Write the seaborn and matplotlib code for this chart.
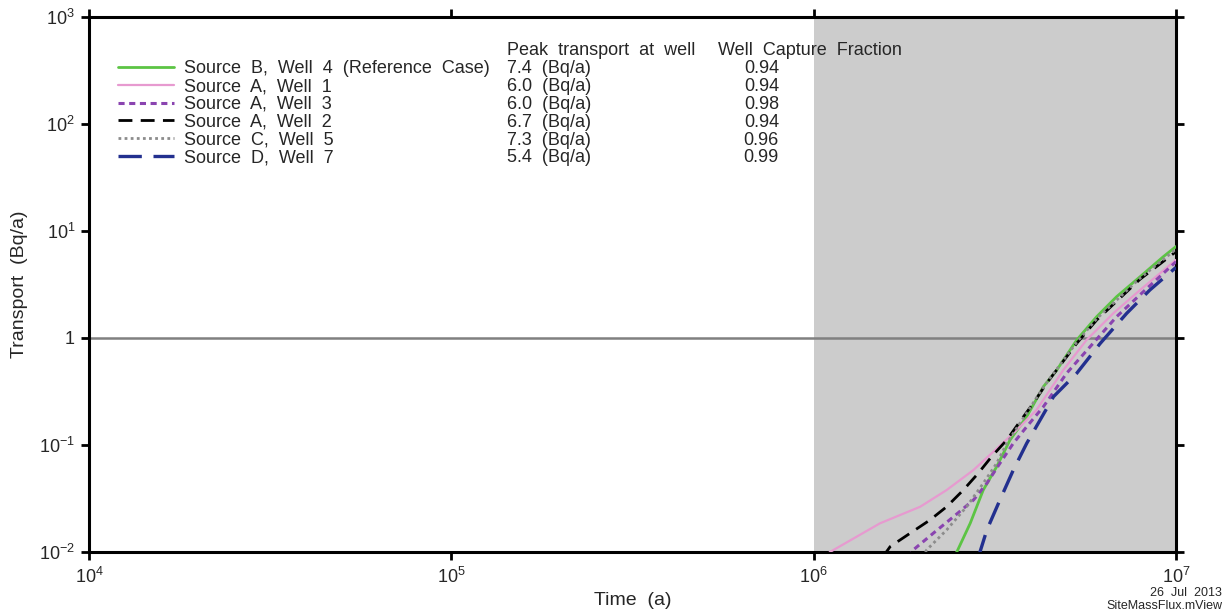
import numpy as np
import pandas as pd
import matplotlib
matplotlib.use("Agg")
import matplotlib.pyplot as plt
import seaborn as sns
from matplotlib.lines import Line2D
from matplotlib.ticker import FixedLocator, FixedFormatter, NullLocator

# ---- data ----
names = ["Source  B,  Well  4  (Reference  Case)", "Source  A,  Well  1", "Source  A,  Well  3",
         "Source  A,  Well  2", "Source  C,  Well  5", "Source  D,  Well  7"]
peak = ["7.4  (Bq/a)", "6.0  (Bq/a)", "6.0  (Bq/a)", "6.7  (Bq/a)", "7.3  (Bq/a)", "5.4  (Bq/a)"]
capture = ["0.94", "0.94", "0.98", "0.94", "0.96", "0.99"]

# log10(time), log10(transport)
green_t = [6.385, 6.395, 6.432, 6.468, 6.505, 6.542, 6.588, 6.634, 6.671, 6.726, 6.781, 6.836, 6.901, 6.965, 7.0]
green_y = [-2.05, -2.0, -1.732, -1.421, -1.203, -0.953, -0.735, -0.455, -0.299, -0.019, 0.199, 0.386, 0.573, 0.76, 0.855]
pink_t = [6.03, 6.045, 6.183, 6.294, 6.367, 6.441, 6.496, 6.551, 6.615, 6.689, 6.753, 6.827, 6.901, 7.0]
pink_y = [-2.05, -2.0, -1.732, -1.577, -1.421, -1.234, -1.062, -0.891, -0.673, -0.299, -0.019, 0.231, 0.449, 0.73]
purple_t = [6.26, 6.275, 6.330, 6.386, 6.441, 6.478, 6.514, 6.551, 6.588, 6.634, 6.698, 6.763, 6.836, 6.910, 7.0]
purple_y = [-2.05, -1.98, -1.825, -1.67, -1.514, -1.358, -1.171, -0.984, -0.829, -0.642, -0.330, -0.081, 0.199, 0.433, 0.713]
black_t = [6.19, 6.211, 6.266, 6.321, 6.367, 6.413, 6.454, 6.491, 6.533, 6.569, 6.606, 6.643, 6.726, 6.781, 6.901, 7.0]
black_y = [-2.05, -1.95, -1.825, -1.701, -1.577, -1.421, -1.265, -1.109, -0.953, -0.782, -0.61, -0.423, -0.05, 0.168, 0.55, 0.807]
gray_t = [6.30, 6.312, 6.367, 6.422, 6.468, 6.505, 6.533, 6.588, 6.634, 6.726, 6.781, 6.901, 7.0]
gray_y = [-2.05, -1.98, -1.794, -1.577, -1.358, -1.171, -0.984, -0.70, -0.46, -0.04, 0.18, 0.56, 0.83]
blue_t = [6.455, 6.459, 6.478, 6.514, 6.551, 6.588, 6.625, 6.662, 6.726, 6.791, 6.864, 6.928, 7.0]
blue_y = [-2.05, -2.0, -1.794, -1.514, -1.234, -0.984, -0.766, -0.548, -0.33, -0.05, 0.231, 0.449, 0.66]

series_t = [green_t, pink_t, purple_t, black_t, gray_t, blue_t]
series_y = [green_y, pink_y, purple_y, black_y, gray_y, blue_y]

colors = ["#5cc444", "#e79ad0", "#8a44b0", "#000000", "#8c8c8c", "#23308f"]
styles = ["-", "-", (0, (2, 1.5)), (0, (5, 3)), (0, (1, 1.2)), (0, (7, 3.5))]
widths = [2.0, 1.6, 2.2, 2.0, 2.0, 2.4]

yticks = [1e-2, 1e-1, 1, 1e1, 1e2, 1e3]
ylabels = ["$10^{-2}$", "$10^{-1}$", "1", "$10^{1}$", "$10^{2}$", "$10^{3}$"]
xticks = [1e4, 1e5, 1e6, 1e7]
xlabels = ["$10^{4}$", "$10^{5}$", "$10^{6}$", "$10^{7}$"]

rows = []
for n, t, y in zip(names, series_t, series_y):
    for a, b in zip(t, y):
        rows.append({"case": n, "time": 10 ** a, "transport": 10 ** b})
df = pd.DataFrame(rows)

sns.set_theme(style="white")
plt.rcParams["font.family"] = ["Liberation Sans", "DejaVu Sans"]
plt.rcParams["mathtext.fontset"] = "custom"
plt.rcParams["mathtext.rm"] = "Liberation Sans"
plt.rcParams["mathtext.it"] = "Liberation Sans"
plt.rcParams["axes.unicode_minus"] = False

fig = plt.figure(figsize=(12.32, 6.16), dpi=100)
ax = fig.add_axes([89 / 1232, 1 - 552 / 616, (1176 - 89) / 1232, (552 - 17) / 616])

ax.set_xscale("log")
ax.set_yscale("log")
ax.set_xlim(1e4, 1e7)
ax.set_ylim(1e-2, 1e3)

ax.axvspan(1e6, 1e7, color="#cccccc", zorder=0, lw=0)
ax.axhline(1, color="#808080", lw=1.8, zorder=1)

for i, n in enumerate(names):
    sub = df[df["case"] == n]
    sns.lineplot(data=sub, x="time", y="transport", ax=ax, color=colors[i],
                 linestyle=styles[i], lw=widths[i], sort=False, estimator=None,
                 legend=False, zorder=3 + i)

ax.yaxis.set_major_locator(FixedLocator(yticks))
ax.yaxis.set_major_formatter(FixedFormatter(ylabels))
ax.xaxis.set_major_locator(FixedLocator(xticks))
ax.xaxis.set_major_formatter(FixedFormatter(xlabels))
ax.xaxis.set_minor_locator(NullLocator())
ax.yaxis.set_minor_locator(NullLocator())

for s in ax.spines.values():
    s.set_color("black")
    s.set_linewidth(2.2)
ax.tick_params(which="major", direction="out", length=6, width=2, color="black",
               labelsize=13, top=True, right=True, bottom=True, left=True,
               labeltop=False, labelright=False, pad=4)
ax.tick_params(axis="x", pad=5)

ax.set_xlabel("Time  (a)", fontsize=14)
ax.set_ylabel("Transport  (Bq/a)", fontsize=14, labelpad=8)
ax.xaxis.set_label_coords(0.5, -0.075)

handles = [Line2D([], [], color=c, linestyle=s, lw=w) for c, s, w in zip(colors, styles, widths)]
leg = ax.legend(handles, names, loc="upper left", bbox_to_anchor=(0.0267, 0.919),
                frameon=False, fontsize=13, handlelength=3.1, handletextpad=0.55,
                labelspacing=0.045, borderaxespad=0, borderpad=0)

fig.canvas.draw()
inv = ax.transAxes.inverted()
ys = []
for txt in leg.get_texts():
    bb = txt.get_window_extent()
    ys.append(inv.transform(((bb.x0 + bb.x1) / 2, (bb.y0 + bb.y1) / 2))[1])
dy = ys[0] - ys[1]
xp = (507 - 89) / 1087
xc = (718 - 89) / 1087
xcv = (779 - 89) / 1087
ax.text(xp, ys[0] + dy * 1.05, "Peak  transport  at  well", fontsize=13, va="center", ha="left",
        transform=ax.transAxes)
ax.text(xc, ys[0] + dy * 1.05, "Well  Capture  Fraction", fontsize=13, va="center", ha="left",
        transform=ax.transAxes)
for y, p, c in zip(ys, peak, capture):
    ax.text(xp, y, p, fontsize=13, va="center", ha="left", transform=ax.transAxes)
    ax.text(xcv, y, c, fontsize=13, va="center", ha="right", transform=ax.transAxes)

fig.text(1222 / 1232, 1 - 593 / 616, "26  Jul  2013", fontsize=9, ha="right", va="center")
fig.text(1222 / 1232, 1 - 606 / 616, "SiteMassFlux.mView", fontsize=9, ha="right", va="center")

fig.savefig("out.png", dpi=100)
